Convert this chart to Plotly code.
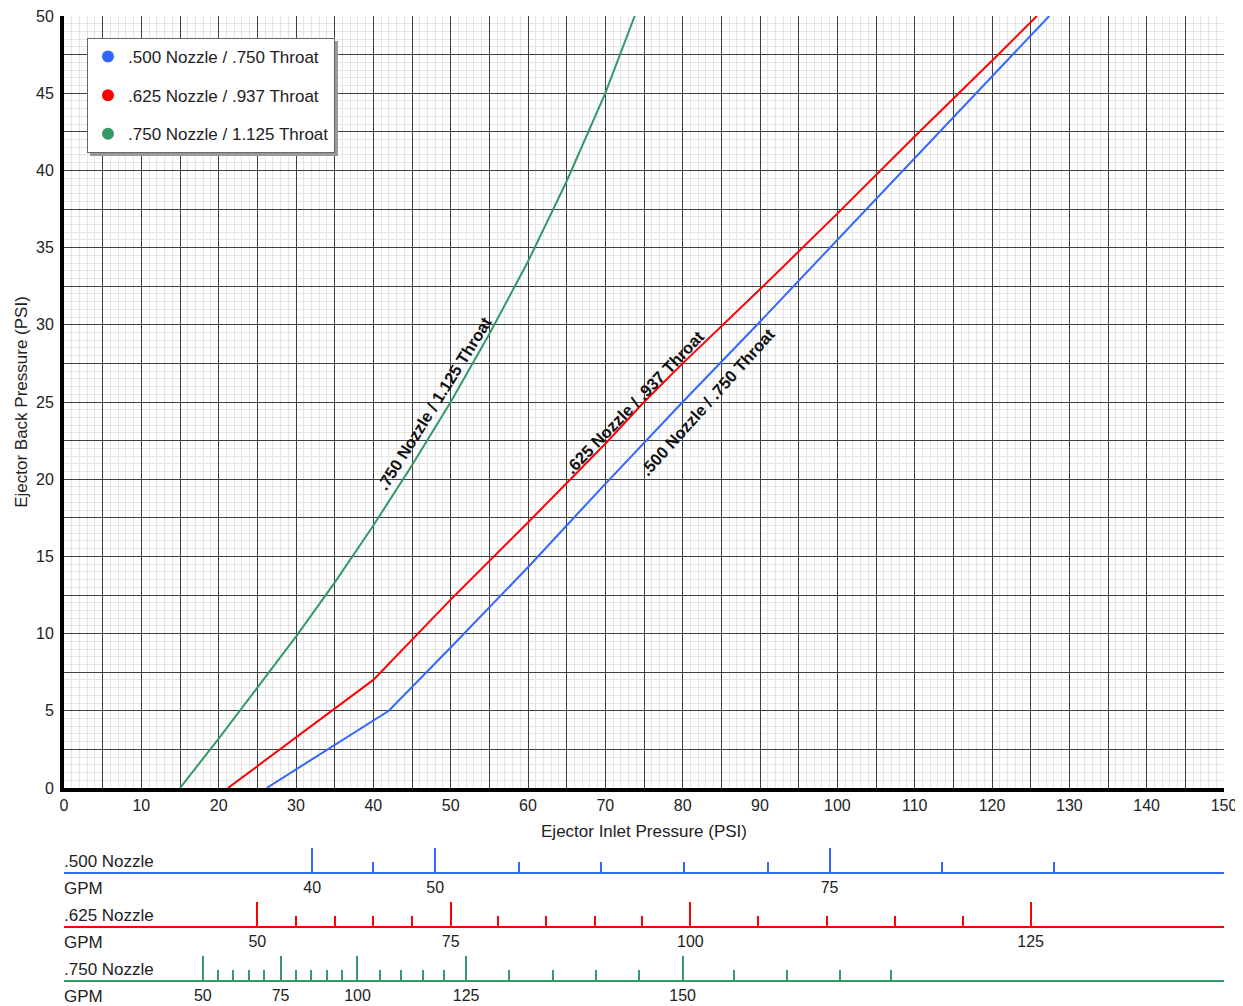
import plotly.graph_objects as go

# ---------------- data ----------------
# Ejector inlet pressure (PSI) vs back pressure (PSI)
n500_x = [26.2, 42, 50, 60, 70, 80, 90, 100, 110, 120, 127.4]
n500_y = [0, 5, 9.1, 14.3, 19.7, 25.0, 30.2, 35.5, 40.8, 46.1, 50]

n625_x = [21.2, 30, 40, 50, 60, 70, 75, 80, 90, 100, 110, 120, 125.8]
n625_y = [0, 3.3, 7.0, 12.2, 17.2, 22.3, 25.0, 27.5, 32.3, 37.2, 42.2, 47.1, 50]

n750_x = [15, 20, 25, 30, 35, 40, 45, 50, 55, 60, 65, 70, 73.8]
n750_y = [0, 3.2, 6.5, 9.8, 13.3, 17.0, 20.9, 25.0, 29.4, 34.1, 39.3, 45.0, 50]

series_names = [".500 Nozzle / .750 Throat", ".625 Nozzle / .937 Throat", ".750 Nozzle / 1.125 Throat"]
series_colors = ["#3366ff", "#ff0000", "#339966"]

x_tick_vals = list(range(0, 151, 5))
x_tick_text = [str(v) if v % 10 == 0 else "" for v in x_tick_vals]
y_tick_vals = [v * 2.5 for v in range(0, 21)]
y_tick_text = [str(int(v)) if v % 5 == 0 else "" for v in y_tick_vals]

# GPM scales: position on the inlet-pressure axis (PSI) of each GPM tick
gpm500_major_psi = [32.1, 48.0, 99.0]
gpm500_major_lbl = ["40", "50", "75"]
gpm500_minor_psi = [40.0, 58.8, 69.5, 80.2, 91.0, 113.5, 128.0]

gpm625_major_psi = [25.0, 50.0, 81.0, 125.0]
gpm625_major_lbl = ["50", "75", "100", "125"]
gpm625_minor_psi = [30.0, 35.0, 39.9, 45.0, 56.1, 62.3, 68.6, 74.8, 89.8, 98.6, 107.4, 116.2]

gpm750_major_psi = [17.95, 28.0, 37.95, 52.0, 80.0]
gpm750_major_lbl = ["50", "75", "100", "125", "150"]
gpm750_minor_psi = [19.95, 21.9, 23.9, 25.9, 30.0, 32.0, 34.0, 35.95, 40.8, 43.6, 46.4, 49.2,
                    57.6, 63.2, 68.8, 74.4, 86.7, 93.5, 100.3, 107.0]

gpm_row_names = [".500 Nozzle", ".625 Nozzle", ".750 Nozzle"]

# curve label annotations: (x, y, angle)
label_pos = [(83.2, 25.0, -48), (73.8, 25.0, -46), (47.8, 24.9, -58)]

# ---------------- layout helpers ----------------
OFF = 8  # page body margin
W, H = 1243 - OFF, 1006 - OFF
ML, MR, MT, MB = 64 - OFF, 19, 16 - OFF, 0
PW, PH = W - ML - MR, H - MT - MB


def py(p):  # screen pixel -> paper y
    return (H - MB - (p - OFF)) / PH


def px(p):  # screen pixel -> paper x
    return (p - OFF - ML) / PW


FONT = "Liberation Sans, Arial, sans-serif"

fig = go.Figure()

curves = [(n500_x, n500_y), (n625_x, n625_y), (n750_x, n750_y)]
for (cx, cy), name, col in zip(curves, series_names, series_colors):
    fig.add_trace(go.Scatter(x=cx, y=cy, mode="lines", line=dict(color=col, width=2),
                             showlegend=False, hoverinfo="skip"))
for name, col in zip(series_names, series_colors):
    fig.add_trace(go.Scatter(x=[None], y=[None], mode="markers", name=name, legendgroup=name,
                             marker=dict(size=13, color=col, symbol="circle")))

# dummy traces for the GPM axes
for ax in ["x2", "x3", "x4"]:
    fig.add_trace(go.Scatter(x=[None], y=[None], xaxis=ax, showlegend=False, hoverinfo="skip"))


def gpm_axis(pos, color, major_psi, major_lbl, minor_psi):
    return dict(overlaying="x", anchor="free", position=pos, side="bottom", range=[0, 150],
                showgrid=False, zeroline=False, showline=True, linecolor=color, linewidth=2,
                ticks="inside", ticklen=24, tickwidth=2, tickcolor=color,
                tickmode="array", tickvals=major_psi, ticktext=major_lbl,
                minor=dict(tickmode="array", tickvals=minor_psi, ticks="inside", ticklen=10,
                           tickwidth=2, tickcolor=color, showgrid=False),
                tickfont=dict(size=16, color="#222", family=FONT), automargin=False,
                ticklabeloverflow="allow", fixedrange=True)


annotations = []
for (ax_, ay_, ang), name in zip(label_pos, series_names):
    annotations.append(dict(x=ax_, y=ay_, xref="x", yref="y", text="<b>%s</b>" % name,
                            textangle=ang, showarrow=False, font=dict(size=16.5, color="#111", family=FONT)))

row_line_px = [873, 927, 981]
for name, lp in zip(gpm_row_names, row_line_px):
    annotations.append(dict(x=px(62), y=py(lp - 12), xref="paper", yref="paper", text=name,
                            xanchor="left", yanchor="middle", showarrow=False,
                            font=dict(size=17, color="#222", family=FONT)))
    annotations.append(dict(x=px(62), y=py(lp + 15), xref="paper", yref="paper", text="GPM",
                            xanchor="left", yanchor="middle", showarrow=False,
                            font=dict(size=17, color="#222", family=FONT)))

shapes = [dict(type="rect", xref="paper", yref="paper", x0=px(90), x1=px(338), y0=py(156), y1=py(41),
               fillcolor="#9a9a9a", line=dict(width=0), layer="above")]

fig.update_layout(
    width=W, height=H, margin=dict(l=ML, r=MR, t=MT, b=MB),
    paper_bgcolor="white", plot_bgcolor="white",
    font=dict(family=FONT, size=16, color="#222"),
    xaxis=dict(range=[0, 150], tickmode="array", tickvals=x_tick_vals, ticktext=x_tick_text,
               showgrid=True, gridcolor="#404040", gridwidth=1, zeroline=False,
               minor=dict(tickmode="linear", tick0=0, dtick=1, showgrid=True, gridcolor="#e4e4e4", gridwidth=1),
               showline=True, linecolor="black", linewidth=4, ticks="", ticklabelstandoff=0,
               ticklabeloverflow="allow",
               tickfont=dict(size=16, color="#222"), automargin=False, fixedrange=True,
               title=dict(text="Ejector Inlet Pressure (PSI)", font=dict(size=17, color="#222"), standoff=13)),
    yaxis=dict(range=[0, 50], domain=[py(788), 1], tickmode="array", tickvals=y_tick_vals, ticktext=y_tick_text,
               showgrid=True, gridcolor="#404040", gridwidth=1, zeroline=False,
               minor=dict(tickmode="linear", tick0=0, dtick=0.5, showgrid=True, gridcolor="#e4e4e4", gridwidth=1),
               showline=True, linecolor="black", linewidth=4, ticks="", ticklabelstandoff=3,
               ticklabeloverflow="allow",
               tickfont=dict(size=16, color="#222"), automargin=False, fixedrange=True,
               title=dict(text="Ejector Back Pressure (PSI)", font=dict(size=17, color="#222"), standoff=5)),
    xaxis2=gpm_axis(py(873), series_colors[0], gpm500_major_psi, gpm500_major_lbl, gpm500_minor_psi),
    xaxis3=gpm_axis(py(927), series_colors[1], gpm625_major_psi, gpm625_major_lbl, gpm625_minor_psi),
    xaxis4=gpm_axis(py(981), series_colors[2], gpm750_major_psi, gpm750_major_lbl, gpm750_minor_psi),
    legend=dict(x=px(87), y=py(38), xanchor="left", yanchor="top", bgcolor="white",
                bordercolor="#666", borderwidth=1, font=dict(size=17, color="#222"),
                tracegroupgap=13.5, itemsizing="constant"),
    annotations=annotations, shapes=shapes, showlegend=True,
)

fig.write_html("out.html")
